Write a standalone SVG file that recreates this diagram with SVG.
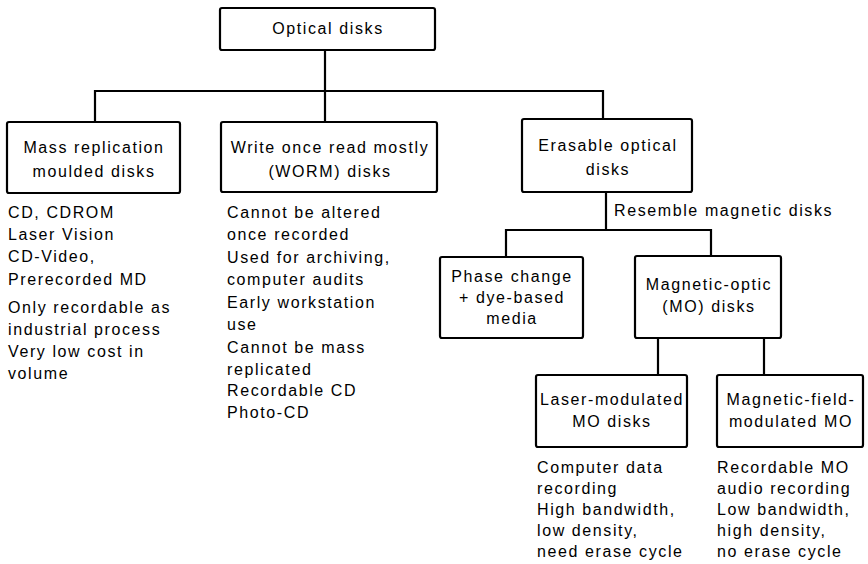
<svg xmlns="http://www.w3.org/2000/svg" width="868" height="564" viewBox="0 0 868 564">
<style>
.box{fill:#fff;stroke:#000;stroke-width:2.2}
.c{fill:none;stroke:#000;stroke-width:2.2}
text{font-family:"Liberation Sans",Arial,sans-serif;font-size:16px;letter-spacing:1.6px;fill:#000}
.m{text-anchor:middle}
</style>
<rect width="868" height="564" fill="#fff"/>
<g id="connectors">
<path class="c" d="M325 50V91M95 122V91H603V119M325 91V122"/>
<path class="c" d="M606 192V230M506 257V230H711V256"/>
<path class="c" d="M658 338V375M764 338V375"/>
</g>
<g id="optical">
<rect class="box" x="220" y="8" width="215" height="42" rx="2"/>
<text class="m" x="328" y="34">Optical disks</text>
</g>
<g id="mass">
<rect class="box" x="7" y="122" width="173" height="71" rx="2"/>
<text class="m" x="94" y="153">Mass replication</text>
<text class="m" x="94" y="177">moulded disks</text>
</g>
<g id="worm">
<rect class="box" x="221" y="122" width="216" height="70" rx="2"/>
<text class="m" x="330" y="153">Write once read mostly</text>
<text class="m" x="330" y="177">(WORM) disks</text>
</g>
<g id="erasable">
<rect class="box" x="522" y="119" width="170" height="73" rx="2"/>
<text class="m" x="608" y="151">Erasable optical</text>
<text class="m" x="608" y="175">disks</text>
</g>
<g id="phase">
<rect class="box" x="440" y="257" width="143" height="81" rx="2"/>
<text class="m" x="512" y="282">Phase change</text>
<text class="m" x="512" y="303">+ dye-based</text>
<text class="m" x="512" y="324">media</text>
</g>
<g id="mo">
<rect class="box" x="635" y="256" width="146" height="82" rx="2"/>
<text class="m" x="709" y="290">Magnetic-optic</text>
<text class="m" x="709" y="312">(MO) disks</text>
</g>
<g id="laser">
<rect class="box" x="536" y="375" width="151" height="72" rx="2"/>
<text class="m" x="612" y="405">Laser-modulated</text>
<text class="m" x="612" y="427">MO disks</text>
</g>
<g id="field">
<rect class="box" x="717" y="375" width="146" height="72" rx="2"/>
<text class="m" x="791" y="405">Magnetic-field-</text>
<text class="m" x="791" y="427">modulated MO</text>
</g>
<g id="labels">
<text x="614" y="216">Resemble magnetic disks</text>
<text x="8" y="218">CD, CDROM</text>
<text x="8" y="240">Laser Vision</text>
<text x="8" y="262">CD-Video,</text>
<text x="8" y="284.5">Prerecorded MD</text>
<text x="8" y="313">Only recordable as</text>
<text x="8" y="335">industrial process</text>
<text x="8" y="357">Very low cost in</text>
<text x="8" y="379">volume</text>
<text x="227" y="218">Cannot be altered</text>
<text x="227" y="240">once recorded</text>
<text x="227" y="262.5">Used for archiving,</text>
<text x="227" y="285">computer audits</text>
<text x="227" y="307.5">Early workstation</text>
<text x="227" y="330">use</text>
<text x="227" y="352.5">Cannot be mass</text>
<text x="227" y="374.5">replicated</text>
<text x="227" y="396">Recordable CD</text>
<text x="227" y="418">Photo-CD</text>
<text x="537" y="473">Computer data</text>
<text x="537" y="494">recording</text>
<text x="537" y="515">High bandwidth,</text>
<text x="537" y="536">low density,</text>
<text x="537" y="557">need erase cycle</text>
<text x="717" y="473">Recordable MO</text>
<text x="717" y="494">audio recording</text>
<text x="717" y="515">Low bandwidth,</text>
<text x="717" y="536">high density,</text>
<text x="717" y="557">no erase cycle</text>
</g>
</svg>
